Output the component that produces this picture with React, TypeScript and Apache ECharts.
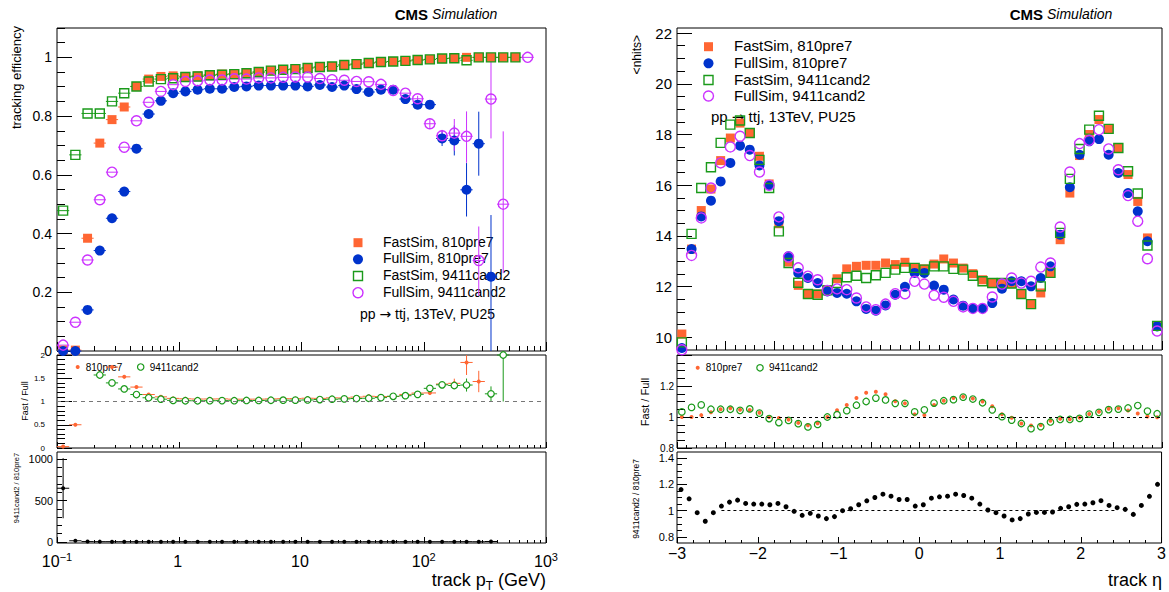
import { useEffect, useRef } from 'react';
import * as echarts from 'echarts';

const FONT = '"Liberation Sans", Arial, Helvetica, sans-serif';
const ORANGE = '#ff6633';
const BLUE = '#0033cc';
const GREEN = '#1a9a1a';
const MAGENTA = '#cc33ff';

// ---------------- Left column: tracking efficiency vs track pT ----------------
const ptCenters = [0.1122, 0.1413, 0.1778, 0.2239, 0.2818, 0.3548, 0.4467, 0.5623, 0.7079, 0.8913,
  1.122, 1.413, 1.778, 2.239, 2.818, 3.548, 4.467, 5.623, 7.079, 8.913,
  11.22, 14.13, 17.78, 22.39, 28.18, 35.48, 44.67, 56.23, 70.79, 89.13,
  112.2, 141.3, 177.8, 223.9, 281.8, 354.8, 446.7, 562.3, 707.9];
const ptEdges = [0.1, 0.1259, 0.1585, 0.1995, 0.2512, 0.3162, 0.3981, 0.5012, 0.631, 0.7943,
  1, 1.259, 1.585, 1.995, 2.512, 3.162, 3.981, 5.012, 6.31, 7.943,
  10, 12.59, 15.85, 19.95, 25.12, 31.62, 39.81, 50.12, 63.1, 79.43,
  100, 125.9, 158.5, 199.5, 251.2, 316.2, 398.1, 501.2, 631, 794.3];

const effFastOld = [0.003, 0.003, 0.384, 0.708, 0.788, 0.831, 0.901, 0.926, 0.935, 0.937,
  0.935, 0.937, 0.941, 0.943, 0.944, 0.946, 0.950, 0.955, 0.958, 0.960,
  0.964, 0.967, 0.969, 0.974, 0.977, 0.981, 0.984, 0.986, 0.988, 0.991,
  0.993, 0.996, 0.997, 1.0, 1.0, 1.0, 1.0, 1.0, null];
const effFullOld = [0.0, 0.0, 0.140, 0.342, 0.452, 0.543, 0.689, 0.807, 0.852, 0.878,
  0.884, 0.890, 0.893, 0.893, 0.899, 0.901, 0.904, 0.904, 0.904, 0.904,
  0.901, 0.906, 0.899, 0.904, 0.892, 0.882, 0.890, 0.890, 0.858, 0.839,
  0.839, 0.724, 0.717, 0.549, 0.706, 0.253, null, null, null];
const effFastNew = [0.478, 0.668, 0.809, 0.809, 0.850, 0.878, 0.901, 0.918, 0.926, 0.929,
  0.933, 0.935, 0.939, 0.941, 0.943, 0.946, 0.950, 0.955, 0.958, 0.960,
  0.964, 0.967, 0.969, 0.974, 0.977, 0.981, 0.984, 0.986, 0.988, 0.991,
  0.993, 0.996, 0.997, 0.990, 1.0, 1.0, 1.0, 1.0, null];
const effFullNew = [0.020, 0.098, 0.310, 0.515, 0.609, 0.694, 0.784, 0.847, 0.884, 0.907,
  0.918, 0.920, 0.923, 0.923, 0.927, 0.926, 0.930, 0.930, 0.932, 0.933,
  0.933, 0.928, 0.924, 0.922, 0.918, 0.917, 0.908, 0.887, 0.878, 0.859,
  0.774, 0.733, 0.742, 0.731, 0.308, 0.858, 0.500, null, 1.0];

const errFullOldLo = [0, 0, 0, 0, 0, 0, 0, 0, 0, 0, 0, 0, 0, 0, 0, 0, 0, 0, 0, 0,
  0, 0, 0, 0, 0, 0, 0, 0, 0, 0.010, 0.012, 0.026, 0.051, 0.091, 0.109, 0.253, 0, 0, 0];
const errFullOldHi = [0, 0, 0, 0, 0, 0, 0, 0, 0, 0, 0, 0, 0, 0, 0, 0, 0, 0, 0, 0,
  0, 0, 0, 0, 0, 0, 0, 0, 0, 0.010, 0.012, 0.026, 0.051, 0.091, 0.109, 0.210, 0, 0, 0];
const errFullNewLo = [0, 0, 0, 0, 0, 0, 0, 0, 0, 0, 0, 0, 0, 0, 0, 0, 0, 0, 0, 0,
  0, 0, 0, 0, 0, 0, 0, 0, 0, 0.010, 0.015, 0.020, 0.060, 0.090, 0.120, 0.134, 0.235, 0, 0];
const errFullNewHi = [0, 0, 0, 0, 0, 0, 0, 0, 0, 0, 0, 0, 0, 0, 0, 0, 0, 0, 0, 0,
  0, 0, 0, 0, 0, 0, 0, 0, 0, 0.010, 0.015, 0.020, 0.048, 0.085, 0.116, 0.134, 0.248, 0, 0];

// Fast / Full ratios (left)
const ratioPtOld = [0.03, 0.5, null, null, 1.74, 1.53, 1.31, 1.15, 1.10, 1.067,
  1.058, 1.053, 1.054, 1.056, 1.05, 1.05, 1.051, 1.056, 1.06, 1.062,
  1.07, 1.067, 1.078, 1.077, 1.095, 1.112, 1.106, 1.108, 1.152, 1.181,
  1.184, 1.376, 1.391, 1.84, 1.43, null, null, null, null];
const ratioPtNew = [null, null, null, 1.57, 1.40, 1.27, 1.15, 1.08, 1.05, 1.024,
  1.016, 1.016, 1.017, 1.019, 1.017, 1.022, 1.022, 1.027, 1.028, 1.029,
  1.033, 1.042, 1.049, 1.056, 1.064, 1.07, 1.084, 1.112, 1.125, 1.154,
  1.283, 1.359, 1.344, 1.354, null, 1.165, 2.0, null, null];
const errRatioPtOld = [0, 0, 0, 0, 0, 0, 0, 0, 0, 0, 0, 0, 0, 0, 0, 0, 0, 0, 0, 0,
  0, 0, 0, 0, 0, 0, 0, 0, 0, 0, 0, 0.04, 0.10, 0.27, 0.23, 0, 0, 0, 0];
const errRatioPtNew = [0, 0, 0, 0, 0, 0, 0, 0, 0, 0, 0, 0, 0, 0, 0, 0, 0, 0, 0, 0,
  0, 0, 0, 0, 0, 0, 0, 0, 0, 0, 0, 0.05, 0.06, 0.14, 0, 0.16, 1.0, 0, 0];

// 9411cand2 / 810pre7 (left)
const ratio2Pt = [650, 12, 2.2, 1.5, 1.35, 1.28, 1.14, 1.05, 1.04, 1.03,
  1.04, 1.03, 1.03, 1.03, 1.03, 1.03, 1.03, 1.03, 1.03, 1.03,
  1.04, 1.02, 1.03, 1.02, 1.03, 1.04, 1.02, 1.0, 1.02, 1.02,
  0.92, 1.01, 1.03, 1.33, 0.44, 3.4, null, null, null];
const errRatio2Pt = [365, 0, 0, 0, 0, 0, 0, 0, 0, 0, 0, 0, 0, 0, 0, 0, 0, 0, 0, 0,
  0, 0, 0, 0, 0, 0, 0, 0, 0, 0, 0, 0, 0, 0, 0, 0, 0, 0, 0];

// ---------------- Right column: <nhits> vs track eta ----------------
const etaCenters50 = [-2.94, -2.82, -2.70, -2.58, -2.46, -2.34, -2.22, -2.10, -1.98, -1.86,
  -1.74, -1.62, -1.50, -1.38, -1.26, -1.14, -1.02, -0.90, -0.78, -0.66,
  -0.54, -0.42, -0.30, -0.18, -0.06, 0.06, 0.18, 0.30, 0.42, 0.54,
  0.66, 0.78, 0.90, 1.02, 1.14, 1.26, 1.38, 1.50, 1.62, 1.74,
  1.86, 1.98, 2.10, 2.22, 2.34, 2.46, 2.58, 2.70, 2.82, 2.94];
const nhFastOld = [10.13, 13.48, 15.0, 15.85, 16.97, 17.86, 18.45, 18.06, 17.14, 16.05,
  14.48, 12.97, 12.05, 11.71, 11.71, 11.88, 12.31, 12.70, 12.80, 12.84,
  12.84, 12.93, 12.87, 12.96, 12.73, 12.70, 12.89, 13.09, 12.93, 12.73,
  12.51, 12.27, 12.14, 12.14, 12.12, 11.71, 11.31, 11.75, 12.54, 13.85,
  15.69, 17.17, 18.0, 18.59, 18.22, 17.46, 16.42, 15.36, 13.92, 10.43];
const nhFullOld = [9.58, 13.48, 14.77, 15.39, 16.15, 16.88, 17.56, 17.4, 16.78, 16.0,
  14.58, 13.2, 12.54, 12.34, 12.14, 11.81, 11.75, 11.72, 11.42, 11.12,
  11.05, 11.26, 11.68, 11.99, 12.54, 12.54, 12.04, 11.88, 11.49, 11.25,
  11.14, 11.14, 11.35, 11.92, 12.21, 12.21, 12.01, 12.34, 12.8, 14.05,
  15.92, 17.2, 17.73, 17.82, 17.2, 16.48, 15.69, 14.97, 13.79, 10.43];
const nhFastNew = [9.80, 14.08, 15.89, 16.71, 17.67, 18.39, 18.55, 18.06, 17.0, 15.89,
  14.18, 12.93, 12.15, 11.71, 11.68, 11.85, 12.14, 12.37, 12.43, 12.34,
  12.45, 12.54, 12.67, 12.74, 12.74, 12.67, 12.8, 12.8, 12.70, 12.67,
  12.43, 12.21, 12.14, 12.14, 12.12, 11.71, 11.31, 12.01, 12.54, 14.12,
  16.25, 17.43, 18.19, 18.74, 18.22, 17.47, 16.55, 15.67, 13.62, 10.45];
const nhFullNew = [9.51, 13.23, 14.71, 15.89, 16.88, 17.51, 17.93, 17.17, 16.52, 16.0,
  14.75, 13.17, 12.74, 12.41, 12.27, 11.85, 11.91, 11.88, 11.55, 11.2,
  11.09, 11.31, 11.72, 11.72, 12.21, 12.10, 11.66, 11.58, 11.42, 11.2,
  11.14, 11.14, 11.59, 12.1, 12.34, 12.14, 12.21, 12.77, 12.93, 14.35,
  16.52, 17.64, 17.77, 18.19, 17.43, 16.61, 15.59, 14.58, 13.1, 10.25];

const ratioEtaOld = [1.0, 1.0, 1.012, 1.03, 1.05, 1.057, 1.047, 1.045, 1.028, 1.0,
  0.993, 0.983, 0.962, 0.947, 0.96, 1.0, 1.043, 1.078, 1.123, 1.156,
  1.163, 1.147, 1.102, 1.088, 1.017, 1.012, 1.077, 1.105, 1.122, 1.13,
  1.12, 1.1, 1.07, 1.018, 0.995, 0.958, 0.945, 0.948, 0.976, 0.988,
  0.986, 0.996, 1.02, 1.034, 1.053, 1.057, 1.042, 1.023, 1.003, 0.999];
const ratioEtaNew = [1.033, 1.062, 1.078, 1.05, 1.05, 1.05, 1.043, 1.052, 1.025, 0.99,
  0.964, 0.978, 0.957, 0.936, 0.952, 1.0, 1.015, 1.041, 1.076, 1.10,
  1.122, 1.11, 1.088, 1.088, 1.033, 1.046, 1.09, 1.105, 1.112, 1.128,
  1.116, 1.092, 1.046, 1.002, 0.98, 0.958, 0.925, 0.938, 0.968, 0.984,
  0.984, 0.991, 1.019, 1.03, 1.048, 1.051, 1.058, 1.074, 1.038, 1.021];

const etaCenters60 = [-2.95, -2.85, -2.75, -2.65, -2.55, -2.45, -2.35, -2.25, -2.15, -2.05,
  -1.95, -1.85, -1.75, -1.65, -1.55, -1.45, -1.35, -1.25, -1.15, -1.05,
  -0.95, -0.85, -0.75, -0.65, -0.55, -0.45, -0.35, -0.25, -0.15, -0.05,
  0.05, 0.15, 0.25, 0.35, 0.45, 0.55, 0.65, 0.75, 0.85, 0.95,
  1.05, 1.15, 1.25, 1.35, 1.45, 1.55, 1.65, 1.75, 1.85, 1.95,
  2.05, 2.15, 2.25, 2.35, 2.45, 2.55, 2.65, 2.75, 2.85, 2.95];
const ratio2Eta = [1.16, 1.09, 0.985, 0.92, 0.985, 1.035, 1.065, 1.08, 1.055, 1.05,
  1.05, 1.045, 1.055, 1.03, 0.995, 0.965, 0.98, 0.96, 0.94, 0.955,
  1.0, 1.015, 1.045, 1.075, 1.10, 1.125, 1.11, 1.085, 1.085, 1.035,
  1.045, 1.095, 1.105, 1.11, 1.125, 1.115, 1.095, 1.05, 1.005, 0.985,
  0.96, 0.93, 0.94, 0.975, 0.987, 0.987, 0.99, 1.018, 1.03, 1.048,
  1.05, 1.06, 1.076, 1.04, 1.023, 1.01, 0.972, 1.04, 1.109, 1.2];

// ---------------- helpers ----------------
const tickSeq = (a: number, b: number, step: number) => {
  const n = Math.round((b - a) / step);
  const out: number[] = [];
  for (let i = 0; i <= n; i++) out.push(+(a + i * step).toFixed(6));
  return out;
};
const logMajor = [0.1, 1, 10, 100, 1000];
const logMinor: number[] = [];
for (const d of [0.1, 1, 10, 100]) for (let m = 2; m <= 9; m++) logMinor.push(+(m * d).toPrecision(6));

type AxSpec = {
  type: 'value' | 'log'; min: number; max: number; major: number[]; minor: number[];
  majLen: number; minLen: number; labels?: number[]; fmt?: (v: number) => string;
  size?: number; margin?: number; rich?: any;
};

function axes(dim: 'x' | 'y', grid: number, s: AxSpec) {
  const base: any = {
    type: s.type, gridIndex: grid, min: s.min, max: s.max,
    position: dim === 'x' ? 'bottom' : 'left',
    axisLine: { show: false, onZero: false },
    splitLine: { show: false }, minorTick: { show: false }, minorSplitLine: { show: false },
    silent: true,
  };
  if (s.type === 'log') base.logBase = 10;
  const major = {
    ...base,
    axisTick: { show: true, inside: true, length: s.majLen, customValues: s.major, lineStyle: { color: '#000', width: 1 } },
    axisLabel: s.labels
      ? { show: true, customValues: s.labels, formatter: s.fmt, fontSize: s.size, fontFamily: FONT, color: '#000', margin: s.margin, rich: s.rich }
      : { show: false },
  };
  const minor = {
    ...base,
    axisTick: { show: true, inside: true, length: s.minLen, customValues: s.minor, lineStyle: { color: '#000', width: 1 } },
    axisLabel: { show: false },
  };
  return [major, minor];
}

function scatter(g: number, xs: number[], ys: (number | null)[], symbol: string, size: number, fill: string, stroke: string, bw: number, extra: any = {}) {
  const data: number[][] = [];
  xs.forEach((x, i) => { const y = ys[i]; if (y !== null && y !== undefined) data.push([x, y]); });
  return {
    type: 'scatter', xAxisIndex: 2 * g, yAxisIndex: 2 * g, symbol, symbolSize: size, data,
    itemStyle: { color: fill, borderColor: stroke, borderWidth: bw, opacity: 1 },
    silent: true, ...extra,
  };
}

function errBars(g: number, xs: number[], edges: number[], ys: (number | null)[], lo: number[] | null, hi: number[] | null,
  color: string, yMin: number, yMax: number, lw = 1) {
  const data: number[][] = [];
  xs.forEach((x, i) => {
    const y = ys[i];
    if (y === null || y === undefined) return;
    const l = lo ? lo[i] : 0;
    const h = hi ? hi[i] : 0;
    data.push([x, y, Math.max(yMin, y - l), Math.min(yMax, y + h), edges[i], edges[i + 1]]);
  });
  return {
    type: 'custom', xAxisIndex: 2 * g, yAxisIndex: 2 * g, data, silent: true,
    encode: { x: 0, y: 1 },
    renderItem: (_p: any, api: any) => {
      const x = api.value(0), y = api.value(1), ylo = api.value(2), yhi = api.value(3), xl = api.value(4), xr = api.value(5);
      const p = api.coord([x, y]);
      const pl = api.coord([xl, y]);
      const pr = api.coord([xr, y]);
      const children: any[] = [
        { type: 'line', shape: { x1: pl[0], y1: p[1], x2: pr[0], y2: p[1] }, style: { stroke: color, lineWidth: lw } },
      ];
      if (yhi > ylo) {
        const a = api.coord([x, ylo]);
        const b = api.coord([x, yhi]);
        children.push({ type: 'line', shape: { x1: p[0], y1: a[1], x2: p[0], y2: b[1] }, style: { stroke: color, lineWidth: lw } });
      }
      return { type: 'group', children };
    },
  };
}

const txt = (x: number, y: number, text: string, size: number, o: any = {}) => ({
  type: 'text', x, y, rotation: o.rot || 0, silent: true,
  style: {
    text, fontSize: size, fontFamily: FONT, fill: '#000',
    align: o.align || 'left', textAlign: o.align || 'left',
    verticalAlign: o.va || 'middle', textVerticalAlign: o.va || 'middle',
    fontWeight: o.weight || 'normal', fontStyle: o.style || 'normal', rich: o.rich,
  },
});

function buildOption() {
  const gridStyle = { show: true, borderColor: '#000', borderWidth: 1, backgroundColor: 'rgba(0,0,0,0)', containLabel: false };
  const grids = [
    { left: 57, top: 28, width: 489, height: 323 },
    { left: 57, top: 355, width: 489, height: 93 },
    { left: 57, top: 452, width: 489, height: 91 },
    { left: 677, top: 28, width: 485, height: 322 },
    { left: 677, top: 355, width: 485, height: 93 },
    { left: 677, top: 452, width: 485, height: 91 },
  ].map((g) => ({ ...g, ...gridStyle }));

  const logRich = {
    b: { fontSize: 16, fontFamily: FONT, color: '#000', verticalAlign: 'bottom' },
    sup: { fontSize: 11, fontFamily: FONT, color: '#000', verticalAlign: 'bottom', padding: [0, 0, 7, 0] },
  };
  const logFmt = (v: number) => {
    const e = Math.round(Math.log10(v));
    if (e === 0) return '{b|1}{sup| }';
    if (e === 1) return '{b|10}{sup| }';
    return '{b|10}{sup|' + (e < 0 ? '\u2212' : '') + Math.abs(e) + '}';
  };
  const etaFmt = (v: number) => (v < 0 ? '\u2212' : '') + Math.abs(Math.round(v));
  const decFmt = (v: number) => String(Math.round(v * 10) / 10);

  const xAxis = [
    ...axes('x', 0, { type: 'log', min: 0.1, max: 1000, major: logMajor, minor: logMinor, majLen: 9, minLen: 5 }),
    ...axes('x', 1, { type: 'log', min: 0.1, max: 1000, major: logMajor, minor: logMinor, majLen: 6, minLen: 3 }),
    ...axes('x', 2, { type: 'log', min: 0.1, max: 1000, major: logMajor, minor: logMinor, majLen: 6, minLen: 3,
      labels: logMajor, fmt: logFmt, size: 16, margin: 8, rich: logRich }),
    ...axes('x', 3, { type: 'value', min: -3, max: 3, major: tickSeq(-3, 3, 0.6), minor: tickSeq(-3, 3, 0.12), majLen: 9, minLen: 5 }),
    ...axes('x', 4, { type: 'value', min: -3, max: 3, major: tickSeq(-3, 3, 0.6), minor: tickSeq(-3, 3, 0.12), majLen: 6, minLen: 3 }),
    ...axes('x', 5, { type: 'value', min: -3, max: 3, major: tickSeq(-3, 3, 1), minor: tickSeq(-3, 3, 0.2), majLen: 6, minLen: 3,
      labels: [-3, -2, -1, 0, 1, 2, 3], fmt: etaFmt, size: 16, margin: 2 }),
  ];
  const yAxis = [
    ...axes('y', 0, { type: 'value', min: 0, max: 1.1, major: tickSeq(0, 1, 0.2), minor: tickSeq(0, 1.1, 0.05), majLen: 15, minLen: 8,
      labels: [0, 0.2, 0.4, 0.6, 0.8, 1], fmt: decFmt, size: 14, margin: 5 }),
    ...axes('y', 1, { type: 'value', min: 0, max: 2, major: tickSeq(0, 2, 0.5), minor: tickSeq(0, 2, 0.1), majLen: 15, minLen: 8,
      labels: [0, 0.5, 1, 1.5, 2], fmt: decFmt, size: 8, margin: 12 }),
    ...axes('y', 2, { type: 'value', min: -15, max: 1090, major: [0, 500, 1000], minor: tickSeq(0, 1000, 100), majLen: 10, minLen: 5,
      labels: [0, 500, 1000], fmt: (v: number) => String(Math.round(v)), size: 11, margin: 4 }),
    ...axes('y', 3, { type: 'value', min: 9.5, max: 22.2, major: tickSeq(10, 22, 2), minor: tickSeq(9.5, 22, 0.5), majLen: 15, minLen: 8,
      labels: [10, 12, 14, 16, 18, 20, 22], fmt: (v: number) => String(Math.round(v)), size: 15, margin: 5 }),
    ...axes('y', 4, { type: 'value', min: 0.8, max: 1.4, major: [0.8, 1.0, 1.2, 1.4], minor: tickSeq(0.8, 1.4, 0.05), majLen: 15, minLen: 8,
      labels: [0.8, 1.0, 1.2], fmt: decFmt, size: 10, margin: 3 }),
    ...axes('y', 5, { type: 'value', min: 0.755, max: 1.445, major: [0.8, 1.0, 1.2, 1.4], minor: tickSeq(0.8, 1.4, 0.05), majLen: 10, minLen: 5,
      labels: [0.8, 1.0, 1.2, 1.4], fmt: decFmt, size: 11, margin: 3 }),
  ];

  const dashed = (color: string, data: any[], dash: number[], width = 1) => ({
    silent: true, symbol: ['none', 'none'], label: { show: false }, animation: false,
    lineStyle: { color, type: dash, width }, data,
  });

  const series: any[] = [
    // left main
    errBars(0, ptCenters, ptEdges, effFastOld, null, null, ORANGE, 0, 1.1),
    scatter(0, ptCenters, effFastOld, 'rect', 9, ORANGE, ORANGE, 0),
    errBars(0, ptCenters, ptEdges, effFullOld, errFullOldLo, errFullOldHi, BLUE, 0, 1.1),
    scatter(0, ptCenters, effFullOld, 'circle', 10, BLUE, BLUE, 0),
    errBars(0, ptCenters, ptEdges, effFastNew, null, null, GREEN, 0, 1.1),
    scatter(0, ptCenters, effFastNew, 'rect', 9, 'rgba(0,0,0,0)', GREEN, 1.4),
    errBars(0, ptCenters, ptEdges, effFullNew, errFullNewLo, errFullNewHi, MAGENTA, 0, 1.1),
    scatter(0, ptCenters, effFullNew, 'circle', 10, 'rgba(0,0,0,0)', MAGENTA, 1.4),
    // left ratio
    errBars(1, ptCenters, ptEdges, ratioPtOld, errRatioPtOld, errRatioPtOld, ORANGE, 0, 2),
    scatter(1, ptCenters, ratioPtOld, 'circle', 4, ORANGE, ORANGE, 0, {
      markLine: dashed('#777', [{ yAxis: 1 }], [4, 4], 1.2),
    }),
    errBars(1, ptCenters, ptEdges, ratioPtNew, errRatioPtNew, errRatioPtNew, GREEN, 0, 2),
    scatter(1, ptCenters, ratioPtNew, 'circle', 6.5, '#fff', GREEN, 1.2),
    // left ratio2
    errBars(2, ptCenters, ptEdges, ratio2Pt, errRatio2Pt, errRatio2Pt, '#000', -15, 1090),
    scatter(2, ptCenters, ratio2Pt, 'circle', 4, '#000', '#000', 0),
    // right main
    scatter(3, etaCenters50, nhFastOld, 'rect', 9, ORANGE, ORANGE, 0),
    scatter(3, etaCenters50, nhFullOld, 'circle', 10, BLUE, BLUE, 0),
    scatter(3, etaCenters50, nhFastNew, 'rect', 9, 'rgba(0,0,0,0)', GREEN, 1.4),
    scatter(3, etaCenters50, nhFullNew, 'circle', 10, 'rgba(0,0,0,0)', MAGENTA, 1.4),
    // right ratio
    scatter(4, etaCenters50, ratioEtaOld, 'circle', 4, ORANGE, ORANGE, 0, {
      markLine: dashed('#000', [{ yAxis: 1 }], [3, 3], 1),
    }),
    scatter(4, etaCenters50, ratioEtaNew, 'circle', 6.5, 'rgba(0,0,0,0)', GREEN, 1.2),
    // right ratio2
    scatter(5, etaCenters60, ratio2Eta, 'circle', 5, '#000', '#000', 0, {
      markLine: dashed('#000', [[{ coord: [-2.45, 1] }, { coord: [2.45, 1] }]], [3, 3], 1),
    }),
  ];

  const R = Math.PI / 2;
  const subRich = {
    a: { fontSize: 18, fontFamily: FONT, color: '#000', verticalAlign: 'top' },
    s: { fontSize: 12, fontFamily: FONT, color: '#000', verticalAlign: 'top', padding: [9, 0, 0, 0] },
  };
  const legendRows = [
    { label: 'FastSim, 810pre7' }, { label: 'FullSim, 810pre7' },
    { label: 'FastSim, 9411cand2' }, { label: 'FullSim, 9411cand2' },
  ];
  const ppRich = (size: number) => ({
    t: { fontSize: size, fontFamily: FONT, color: '#000' },
    ar: { fontSize: size, fontFamily: '"DejaVu Sans", sans-serif', color: '#000' },
  });
  const legend = (mx: number, tx: number, ys: number[], size: number, ppY: number, ppX: number) => [
    { type: 'rect', silent: true, shape: { x: mx - 4.5, y: ys[0] - 4.5, width: 9, height: 9 }, style: { fill: ORANGE } },
    { type: 'circle', silent: true, shape: { cx: mx, cy: ys[1], r: 5 }, style: { fill: BLUE } },
    { type: 'rect', silent: true, shape: { x: mx - 4.5, y: ys[2] - 4.5, width: 9, height: 9 }, style: { fill: 'none', stroke: GREEN, lineWidth: 1.4 } },
    { type: 'circle', silent: true, shape: { cx: mx, cy: ys[3], r: 5 }, style: { fill: 'none', stroke: MAGENTA, lineWidth: 1.4 } },
    ...legendRows.map((r, i) => txt(tx, ys[i] - 1, r.label, size)),
    txt(ppX, ppY, '{t|pp }{ar|\u2192}{t| ttj, 13TeV, PU25}', size, { rich: ppRich(size) }),
  ];
  const ratioLegend = (ox: number, gx: number, y: number) => [
    { type: 'circle', silent: true, shape: { cx: ox, cy: y, r: 2 }, style: { fill: ORANGE } },
    txt(ox + 8, y, '810pre7', 10),
    { type: 'circle', silent: true, shape: { cx: gx, cy: y, r: 3.2 }, style: { fill: 'none', stroke: GREEN, lineWidth: 1.2 } },
    txt(gx + 9, y, '9411cand2', 10),
  ];

  const graphic = [
    // left column
    txt(428, 14, 'CMS', 15, { align: 'right', weight: 'bold' }),
    txt(432, 14, 'Simulation', 14, { style: 'italic' }),
    txt(16, 26, 'tracking efficiency', 13, { align: 'right', rot: R }),
    txt(25, 401, 'Fast / Full', 9, { align: 'center', rot: R }),
    txt(16, 488, '9411cand2 / 810pre7', 7.5, { align: 'center', rot: R }),
    txt(546, 581, '{a|track p}{s|T}{a| (GeV)}', 18, { align: 'right', rich: subRich }),
    ...legend(358, 383, [242.7, 259.3, 276, 292.7], 14, 314, 360),
    ...ratioLegend(77.7, 140.7, 367),
    // right column
    txt(1043, 14, 'CMS', 15, { align: 'right', weight: 'bold' }),
    txt(1047, 14, 'Simulation', 14, { style: 'italic' }),
    txt(637, 35, '<nhits>', 12, { align: 'right', rot: R }),
    txt(645, 402, 'Fast / Full', 11, { align: 'center', rot: R }),
    txt(636, 499, '9411cand2 / 810pre7', 8.5, { align: 'center', rot: R }),
    txt(1162, 580, 'track \u03b7', 18, { align: 'right' }),
    ...legend(708.5, 734, [46.7, 63.3, 80, 96], 15, 116.7, 711),
    ...ratioLegend(697.7, 760, 367.8),
  ];

  return {
    animation: false,
    backgroundColor: '#fff',
    textStyle: { fontFamily: FONT },
    grid: grids,
    xAxis,
    yAxis,
    series,
    graphic: { elements: graphic },
  };
}

export default function App() {
  const ref = useRef<HTMLDivElement>(null);
  useEffect(() => {
    if (!ref.current) return;
    const chart = echarts.init(ref.current, undefined, { renderer: 'svg' });
    chart.setOption(buildOption() as any);
    return () => chart.dispose();
  }, []);
  return (
    <div
      ref={ref}
      style={{ position: 'absolute', left: 0, top: 0, width: 1169, height: 592, background: '#fff' }}
    />
  );
}
